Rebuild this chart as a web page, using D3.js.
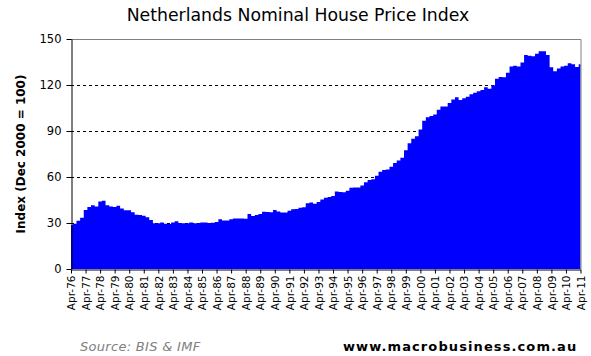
<!DOCTYPE html>
<html><head><meta charset="utf-8">
<script src="https://cdn.jsdelivr.net/npm/d3@7"></script>
<style>
body{margin:0;background:#fff;}
svg{display:block;font-family:"DejaVu Sans",Verdana,sans-serif;}
</style></head>
<body><svg id="c" width="591" height="356"></svg>
<script>
// Quarterly index values, starting Apr-1976 (Dec 2000 = 100)
const startYear = 1976, startMonth = 3; // April
const values = [
 28.7, 29.5, 31.5, 33.5, 38.5, 40.5, 41.5, 40.8, 44.0, 44.5,
 41.5, 40.8, 40.5, 41.2, 39.5, 38.3, 38.3, 37.0, 35.3, 35.2,
 34.8, 33.8, 32.0, 29.8, 29.8, 30.4, 29.5, 29.3, 30.3, 31.2,
 30.0, 29.8, 29.8, 30.4, 29.8, 29.8, 30.4, 30.4, 30.0, 30.2,
 30.7, 32.4, 31.7, 31.7, 32.5, 33.0, 33.0, 33.0, 32.7, 35.8,
 34.6, 35.2, 35.8, 37.4, 37.2, 37.0, 38.5, 37.5, 36.8, 36.8,
 38.0, 38.9, 39.2, 40.0, 40.2, 42.8, 43.3, 42.6, 43.7, 45.4,
 46.4, 47.0, 47.6, 50.5, 50.2, 50.0, 51.1, 53.0, 53.2, 53.2,
 54.5, 56.5, 58.0, 58.6, 60.8, 63.5, 64.6, 64.9, 66.7, 69.2,
 70.7, 72.6, 77.5, 82.0, 85.0, 86.5, 91.0, 96.7, 98.9, 99.8,
 100.8, 103.8, 105.9, 106.0, 108.3, 110.6, 112.0, 110.2, 111.3, 112.4,
 114.0, 115.0, 116.0, 116.8, 118.5, 117.5, 119.8, 124.0, 125.2, 125.1,
 128.0, 132.0, 132.5, 132.0, 134.6, 139.5, 139.0, 138.8, 140.3, 142.0,
 142.0, 139.5, 131.5, 129.0, 130.8, 132.0, 132.5, 134.2, 133.5, 131.8,
 133.6
];
const yTicks = [0, 30, 60, 90, 120, 150];
const tickYears = d3.range(1976, 2012);
const title = "Netherlands Nominal House Price Index";
const yLabel = "Index (Dec 2000 = 100)";
const sourceText = "Source: BIS & IMF";
const siteText = "www.macrobusiness.com.au";

const data = values.map((v, i) => ({date: new Date(startYear, startMonth + 3 * i, 1), v}));
const svg = d3.select("#c");
const L = 71, R = 580.5, T = 39, B = 269;
const x = d3.scaleTime().domain([new Date(1976, 3, 1), new Date(2011, 3, 1)]).range([L, R]);
const y = d3.scaleLinear().domain([0, 150]).range([B, T]);

// gridlines
svg.append("g").selectAll("line").data(yTicks.filter(t => t > 0 && t < 150)).join("line")
  .attr("x1", L).attr("x2", R).attr("y1", d => y(d) + 0.5).attr("y2", d => y(d) + 0.5)
  .attr("stroke", "#000").attr("stroke-width", 1).attr("stroke-dasharray", "3,3");

// area
const area = d3.area().curve(d3.curveStep)
  .x(d => x(d.date)).y0(y(0)).y1(d => y(d.v));
svg.append("path").datum(data).attr("d", area).attr("fill", "#0000ff");

// plot border top/right
svg.append("path").attr("d", `M${L},${T + 0.5}H${R + 0.5}V${B}`)
  .attr("fill", "none").attr("stroke", "#808080").attr("stroke-width", 1);

// y axis
const yAxis = svg.append("g").attr("transform", `translate(${L + 0.5},0)`)
  .call(d3.axisLeft(y).tickValues(yTicks).tickSize(5).tickPadding(5).tickSizeOuter(0));
yAxis.select(".domain").attr("stroke", "#000");
yAxis.selectAll("text").attr("font-size", "11.5px").attr("fill", "#000")
  .attr("font-family", "DejaVu Sans, Verdana, sans-serif");

// x axis
const fmt = d3.timeFormat("%b-%y");
const xAxis = svg.append("g").attr("transform", `translate(0,${B + 0.5})`)
  .call(d3.axisBottom(x).tickValues(tickYears.map(yr => new Date(yr, 3, 1)))
    .tickFormat(fmt).tickSize(4).tickSizeOuter(0));
xAxis.select(".domain").attr("stroke", "#000");
xAxis.selectAll("text").attr("font-size", "10.5px").attr("fill", "#000")
  .attr("font-family", "DejaVu Sans, Verdana, sans-serif")
  .attr("transform", "rotate(-90)").attr("text-anchor", "end")
  .attr("dx", "-6px").attr("y", 0).attr("x", 0).attr("dy", "0.35em");

// title
svg.append("text").attr("x", 298).attr("y", 21).attr("text-anchor", "middle")
  .attr("font-size", "17.3px").attr("fill", "#000").text(title);

// y label
svg.append("text").attr("transform", "translate(25,154) rotate(-90)")
  .attr("text-anchor", "middle").attr("font-size", "12px").attr("font-weight", "bold")
  .attr("fill", "#000").text(yLabel);

// footer
svg.append("text").attr("x", 80).attr("y", 351).attr("font-size", "13px")
  .attr("font-style", "italic").attr("letter-spacing", "0.3px")
  .attr("fill", "#808080").text(sourceText);
svg.append("text").attr("x", 343).attr("y", 351).attr("font-size", "13px")
  .attr("font-weight", "bold").attr("letter-spacing", "1.1px")
  .attr("fill", "#000").text(siteText);
</script></body></html>
